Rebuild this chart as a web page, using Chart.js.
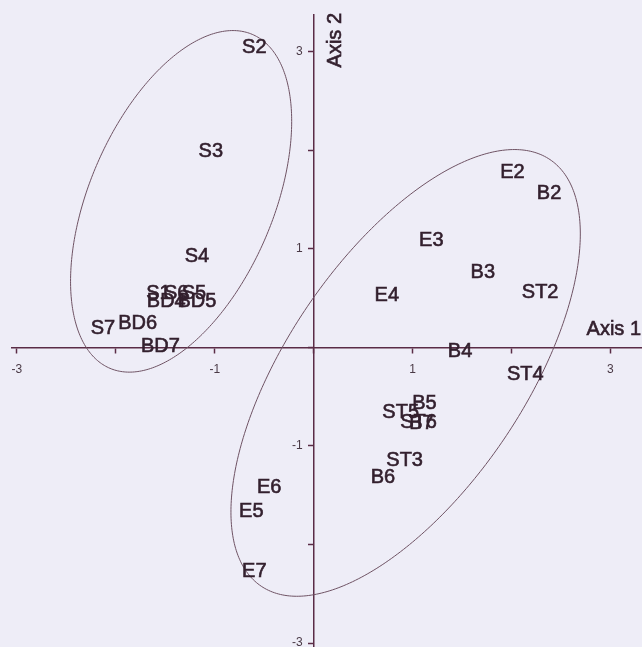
<!DOCTYPE html>
<html>
<head>
<meta charset="utf-8">
<script src="https://cdn.jsdelivr.net/npm/chart.js@4/dist/chart.umd.min.js"></script>
<style>
  html, body { margin: 0; padding: 0; background: #eeedf7; }
  #wrap { width: 642px; height: 647px; }
</style>
</head>
<body>
<div id="wrap"><canvas id="c" width="642" height="647"></canvas></div>
<script>
// Sample labels and their scores on the first two ordination axes
const sampleLabels = [
  'S2', 'S3', 'S4', 'S1', 'S6', 'S5', 'BD4', 'BD5', 'BD6', 'S7', 'BD7',
  'E2', 'B2', 'E3', 'B3', 'ST2', 'E4', 'B4', 'ST4',
  'B5', 'ST5', 'ST6', 'B7', 'ST3', 'B6', 'E6', 'E5', 'E7'
];
const axis1Scores = [
  -0.60, -1.04, -1.18, -1.57, -1.39, -1.21, -1.49, -1.18, -1.78, -2.13, -1.55,
  2.01, 2.38, 1.19, 1.71, 2.29, 0.74, 1.48, 2.14,
  1.12, 0.88, 1.06, 1.09, 0.92, 0.70, -0.45, -0.63, -0.60
];
const axis2Scores = [
  3.04, 1.99, 0.92, 0.55, 0.55, 0.55, 0.46, 0.46, 0.24, 0.19, 0.01,
  1.77, 1.56, 1.08, 0.76, 0.56, 0.53, -0.04, -0.28,
  -0.57, -0.66, -0.76, -0.77, -1.15, -1.32, -1.42, -1.67, -2.27
];

// Group ellipses: centre, semi-axes and tilt (degrees) in axis units
const ellipseCentreX = [-1.34, 0.93];
const ellipseCentreY = [1.48, -0.26];
const ellipseMajor   = [1.84, 2.61];
const ellipseMinor   = [0.93, 1.20];
const ellipseTilt    = [67, 56];

// Axis ranges and tick labels
const axis1Range = [-3.05, 3.32];
const axis2Range = [-3.04, 3.37];
const shownTicks = [-3, -1, 1, 3];

const ink = '#33202e';
const axisInk = '#5a2c46';
const tickInk = '#4a3a46';
const fontFamily = '"Liberation Sans", Arial, sans-serif';

const points = axis1Scores.map((x, i) => ({ x, y: axis2Scores[i] }));

// Axes cross at the origin, so they take no room of their own in the layout
function collapse(scale) {
  if (scale.isHorizontal()) scale.height = 0; else scale.width = 0;
  scale.paddingTop = scale.paddingBottom = scale.paddingLeft = scale.paddingRight = 0;
}

// Slightly heavier text than the plain regular face
function inkText(ctx, text, x, y) {
  ctx.fillText(text, x, y);
  ctx.strokeText(text, x, y);
}

const ellipsePlugin = {
  id: 'groupEllipses',
  beforeDatasetsDraw(chart) {
    const { ctx, scales: { x: sx, y: sy } } = chart;
    ctx.save();
    ctx.strokeStyle = '#6e5263';
    ctx.lineWidth = 1;
    ellipseCentreX.forEach((cx, k) => {
      const cy = ellipseCentreY[k], a = ellipseMajor[k], b = ellipseMinor[k];
      const th = ellipseTilt[k] * Math.PI / 180;
      ctx.beginPath();
      for (let s = 0; s <= 360; s++) {
        const t = s * Math.PI / 180;
        const ux = cx + a * Math.cos(th) * Math.cos(t) - b * Math.sin(th) * Math.sin(t);
        const uy = cy + a * Math.sin(th) * Math.cos(t) + b * Math.cos(th) * Math.sin(t);
        const px = sx.getPixelForValue(ux), py = sy.getPixelForValue(uy);
        if (s === 0) ctx.moveTo(px, py); else ctx.lineTo(px, py);
      }
      ctx.closePath();
      ctx.stroke();
    });
    ctx.restore();
  }
};

const labelPlugin = {
  id: 'sampleText',
  afterDatasetsDraw(chart) {
    const { ctx } = chart;
    const meta = chart.getDatasetMeta(0);
    ctx.save();
    ctx.fillStyle = ink;
    ctx.strokeStyle = ink;
    ctx.lineWidth = 0.6;
    ctx.font = '20px ' + fontFamily;
    ctx.textAlign = 'center';
    ctx.textBaseline = 'middle';
    meta.data.forEach((el, i) => inkText(ctx, sampleLabels[i], el.x, el.y));
    ctx.restore();
  }
};

const axisTextPlugin = {
  id: 'axisText',
  afterDraw(chart) {
    const { ctx, chartArea, scales: { x: sx, y: sy } } = chart;
    const x0 = sx.getPixelForValue(0), y0 = sy.getPixelForValue(0);
    ctx.save();
    // vertical-axis tick labels, set off to the left of the tick marks
    ctx.fillStyle = tickInk;
    ctx.font = '12px ' + fontFamily;
    ctx.textAlign = 'right';
    ctx.textBaseline = 'middle';
    sy.ticks.forEach(t => {
      if (shownTicks.includes(t.value)) ctx.fillText(String(t.value), x0 - 11, sy.getPixelForValue(t.value));
    });
    // axis titles
    ctx.fillStyle = ink;
    ctx.strokeStyle = ink;
    ctx.lineWidth = 0.6;
    ctx.font = '20px ' + fontFamily;
    ctx.textAlign = 'right';
    ctx.textBaseline = 'bottom';
    inkText(ctx, 'Axis 1', chartArea.right - 1, y0 - 8);
    ctx.translate(x0 + 22, chartArea.top - 2);
    ctx.rotate(-Math.PI / 2);
    ctx.textAlign = 'right';
    ctx.textBaseline = 'middle';
    inkText(ctx, 'Axis 2', 0, 0);
    ctx.restore();
  }
};

new Chart(document.getElementById('c'), {
  type: 'scatter',
  data: {
    datasets: [{
      data: points,
      pointRadius: 0,
      pointHoverRadius: 0,
      showLine: false
    }]
  },
  options: {
    responsive: false,
    animation: false,
    events: [],
    layout: { padding: { left: 12, top: 15, right: 0, bottom: 0 } },
    plugins: { legend: { display: false }, tooltip: { enabled: false } },
    scales: {
      x: {
        type: 'linear',
        position: { y: 0 },
        min: axis1Range[0],
        max: axis1Range[1],
        afterFit: collapse,
        border: { display: true, color: axisInk, width: 1.5 },
        grid: { drawOnChartArea: false, drawTicks: true, tickLength: 5, tickColor: axisInk, tickWidth: 1.5 },
        ticks: {
          stepSize: 1, includeBounds: false, autoSkip: false, maxRotation: 0,
          padding: 10, color: tickInk,
          font: { family: fontFamily, size: 12 },
          callback: v => (shownTicks.includes(v) ? String(v) : '')
        }
      },
      y: {
        type: 'linear',
        position: { x: 0 },
        min: axis2Range[0],
        max: axis2Range[1],
        afterFit: collapse,
        border: { display: true, color: axisInk, width: 1.5 },
        grid: { drawOnChartArea: false, drawTicks: true, tickLength: 5, tickColor: axisInk, tickWidth: 1.5 },
        ticks: {
          stepSize: 1, includeBounds: false, autoSkip: false,
          callback: () => ''
        }
      }
    }
  },
  plugins: [ellipsePlugin, labelPlugin, axisTextPlugin]
});
</script>
</body>
</html>
